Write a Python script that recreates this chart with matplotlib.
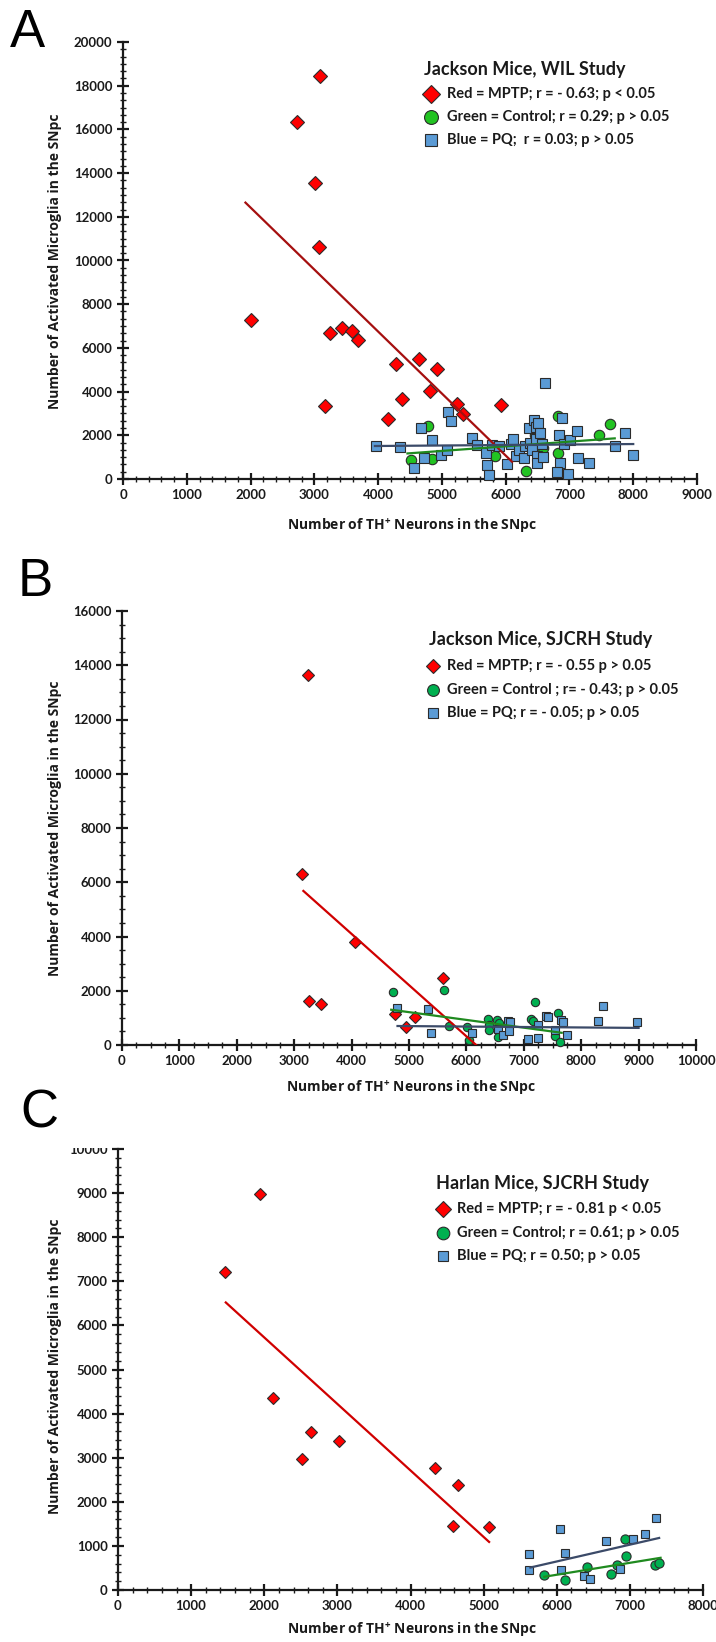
import numpy as np
import matplotlib
matplotlib.use('Agg')
from matplotlib import pyplot as plt
from matplotlib.patches import Rectangle
from matplotlib.ticker import MultipleLocator, AutoMinorLocator, FuncFormatter

plt.rcParams['mathtext.fontset'] = 'custom'
plt.rcParams['mathtext.rm'] = 'Open Sans:bold'
plt.rcParams['mathtext.bf'] = 'Open Sans:bold'

W, H = 716, 1642

# ---------------- data ----------------
# Panel A: Jackson Mice, WIL Study
a_red_x = [3090, 2730, 3010, 3070, 2010, 3250, 3440, 3590, 3690, 3160, 4280, 4640, 4920,
           4820, 4380, 4150, 5230, 5330, 5930]
a_red_y = [18450, 16340, 13540, 10600, 7270, 6700, 6920, 6780, 6360, 3340, 5260, 5470, 5020,
           4040, 3640, 2730, 3430, 2970, 3380]
a_green_x = [4510, 4780, 4850, 5840, 6320, 6460, 6580, 6820, 6820, 7470, 7640]
a_green_y = [870, 2420, 900, 1050, 370, 2030, 1400, 2900, 1190, 2030, 2540]
a_blue_x = [3960, 4350, 4570, 4670, 4720, 4840, 4990, 5080, 5090, 5140, 5475, 5555, 5685,
            5700, 5737, 5789, 5890, 6026, 6090, 6116, 6160, 6210, 6285, 6305, 6360, 6380,
            6420, 6450, 6474, 6500, 6474, 6490, 6490, 6540, 6570, 6580, 6612, 6835, 6845,
            6805, 6885, 6910, 6975, 7016, 7121, 7140, 7300, 7711, 7865, 8000]
a_blue_y = [1520, 1460, 490, 2317, 970, 1784, 1098, 1326, 3079, 2668, 1890, 1540, 1210,
            620, 190, 1555, 1500, 700, 1601, 1830, 1052, 1326, 960, 1530, 2330, 1631,
            1326, 2680, 2393, 2546, 1814, 1070, 730, 2100, 1601, 985, 4375, 2012, 747,
            305, 2810, 1615, 220, 1765, 2195, 976, 747, 1509, 2100, 1098]
a_red_fit = ([1920, 6100], [12650, 790])
a_green_fit = ([4460, 7710], [1170, 1860])
a_blue_fit = ([3950, 8000], [1510, 1600])

# Panel B: Jackson Mice, SJCRH Study
b_red_x = [3240, 3140, 4060, 5600, 3260, 3470, 4760, 5100, 4940]
b_red_y = [13640, 6290, 3790, 2460, 1620, 1500, 1130, 1040, 670]
b_green_x = [4720, 5610, 7200, 5700, 6010, 6040, 6370, 6395, 6395, 6540, 6570, 6555, 7130,
             7160, 7600, 7540, 7630]
b_green_y = [1940, 2020, 1600, 690, 650, 200, 950, 730, 540, 920, 800, 300, 950,
             875, 1190, 350, 120]
b_blue_x = [4790, 5330, 5380, 6100, 6555, 6635, 6720, 6740, 6763, 7080, 7250, 7240, 7380,
            7418, 7540, 7650, 7680, 7750, 8300, 8380, 8980]
b_blue_y = [1380, 1320, 450, 450, 600, 380, 900, 500, 830, 230, 270, 750, 1070,
            1030, 540, 920, 830, 380, 880, 1420, 860]
b_red_fit = ([3160, 6170], [5680, 0])
b_green_fit = ([4690, 7660], [1300, 450])
b_blue_fit = ([4800, 9000], [700, 630])

# Panel C: Harlan Mice, SJCRH Study
c_red_x = [1470, 1940, 2114, 2635, 2522, 3024, 4341, 4655, 4580, 5075]
c_red_y = [7220, 8980, 4355, 3575, 2981, 3380, 2767, 2386, 1458, 1439]
c_green_x = [5830, 6110, 6420, 6740, 6830, 6950, 6930, 7340, 7400]
c_green_y = [330, 225, 525, 370, 570, 765, 1150, 570, 610]
c_blue_x = [5620, 5620, 6050, 6110, 6060, 6370, 6450, 6670, 6870, 7040, 7200, 7360]
c_blue_y = [810, 460, 1380, 850, 445, 320, 240, 1110, 480, 1150, 1265, 1625]
c_red_fit = ([1474, 5075], [6520, 1090])
c_green_fit = ([5830, 7420], [300, 730])
c_blue_fit = ([5640, 7400], [510, 1180])

titles = ['Jackson Mice, WIL Study', 'Jackson Mice, SJCRH Study', 'Harlan Mice, SJCRH Study']
entries = [
    ['Red = MPTP; r = - 0.63; p < 0.05', 'Green = Control; r = 0.29; p > 0.05',
     'Blue = PQ;  r = 0.03; p > 0.05'],
    ['Red = MPTP; r = - 0.55 p > 0.05', 'Green = Control ; r= - 0.43; p > 0.05',
     'Blue = PQ; r = - 0.05; p > 0.05'],
    ['Red = MPTP; r = - 0.81 p < 0.05', 'Green = Control; r = 0.61; p > 0.05',
     'Blue = PQ; r = 0.50; p > 0.05'],
]

XLABEL = 'Number of TH$^{+}$ Neurons in the SNpc'
YLABEL = 'Number of Activated Microglia in the SNpc'

RED = '#FF0000'
BLUE = '#5B9BD5'
EDGE = '#2b2b2b'


def fx(x):
    return x / W


def fy(y):
    return 1 - y / H


fig = plt.figure(figsize=(W / 100, H / 100), dpi=100)

panels = [
    dict(letter='A', box=(123, 42, 697, 479), xlim=9000, ylim=20000, xmaj=1000, xmin=200,
         ymaj=2000, ymin_div=6, red=(a_red_x, a_red_y), green=(a_green_x, a_green_y),
         blue=(a_blue_x, a_blue_y), fits=(a_red_fit, a_green_fit, a_blue_fit),
         green_col='#22C322', red_line='#A50F0F', ms=(7.2, 7.5, 6.6),
         letter_pos=(10, 47), ylab=(55, 261), xlab=526,
         leg=dict(title=(424, 69), mx=431, tx=447, ys=(94, 117, 140))),
    dict(letter='B', box=(122, 611, 696, 1045), xlim=10000, ylim=16000, xmaj=1000, xmin=250,
         ymaj=2000, ymin_div=4, red=(b_red_x, b_red_y), green=(b_green_x, b_green_y),
         blue=(b_blue_x, b_blue_y), fits=(b_red_fit, b_green_fit, b_blue_fit),
         green_col='#00B050', red_line='#D00000', ms=(5.8, 6.0, 5.4),
         letter_pos=(18, 596), ylab=(55, 828), xlab=1088,
         leg=dict(title=(429, 639), mx=433, tx=447, ys=(666, 690, 713))),
    dict(letter='C', box=(118, 1149, 703, 1590), xlim=8000, ylim=10000, xmaj=1000, xmin=200,
         ymaj=1000, ymin_div=5, red=(c_red_x, c_red_y), green=(c_green_x, c_green_y),
         blue=(c_blue_x, c_blue_y), fits=(c_red_fit, c_green_fit, c_blue_fit),
         green_col='#00B050', red_line='#D00000', ms=(6.4, 6.6, 6.0),
         letter_pos=(20, 1128), ylab=(55, 1366), xlab=1630,
         leg=dict(title=(436, 1183), mx=443, tx=457, ys=(1209, 1233, 1256))),
]

fmt = FuncFormatter(lambda v, p: f'{int(round(v))}')

for i, p in enumerate(panels):
    x0, y0, x1, y1 = p['box']
    ax = fig.add_axes([fx(x0), fy(y1), (x1 - x0) / W, (y1 - y0) / H])
    ax.set_xlim(0, p['xlim'])
    ax.set_ylim(0, p['ylim'])
    for s in ('top', 'right'):
        ax.spines[s].set_visible(False)
    for s in ('left', 'bottom'):
        ax.spines[s].set_linewidth(1.6)
        ax.spines[s].set_color('#1a1a1a')
    ax.xaxis.set_major_locator(MultipleLocator(p['xmaj']))
    ax.xaxis.set_minor_locator(MultipleLocator(p['xmin']))
    ax.yaxis.set_major_locator(MultipleLocator(p['ymaj']))
    ax.yaxis.set_minor_locator(AutoMinorLocator(p['ymin_div']))
    ax.xaxis.set_major_formatter(fmt)
    ax.yaxis.set_major_formatter(fmt)
    ax.tick_params(which='major', direction='inout', length=9, width=1.6, color='#1a1a1a',
                   labelsize=9.5, pad=3)
    ax.tick_params(which='minor', direction='inout', length=4, width=1.0, color='#1a1a1a')
    for lab in ax.get_xticklabels() + ax.get_yticklabels():
        lab.set_fontfamily('Lato')
        lab.set_fontweight('bold')
        lab.set_color('#1a1a1a')

    ms_d, ms_o, ms_s = p['ms']
    ax.plot(*p['red'], 'D', ms=ms_d, mfc=RED, mec=EDGE, mew=0.8, ls='none',
            zorder=3, clip_on=False)
    ax.plot(*p['green'], 'o', ms=ms_o, mfc=p['green_col'], mec=EDGE, mew=0.8, ls='none',
            zorder=4, clip_on=False)
    ax.plot(*p['blue'], 's', ms=ms_s, mfc=BLUE, mec=EDGE, mew=0.8, ls='none',
            zorder=5, clip_on=False)
    rf, gf, bf = p['fits']
    ax.plot(*rf, color=p['red_line'], lw=1.6, zorder=6)
    ax.plot(*gf, color='#1F8A1F', lw=1.6, zorder=6)
    ax.plot(*bf, color='#3B4A68', lw=1.6, zorder=6)

    # panel letter
    lx, ly = p['letter_pos']
    fig.text(fx(lx), fy(ly), p['letter'], fontsize=38, family='Liberation Sans',
             ha='left', va='baseline')
    # axis labels
    fig.text(fx(p['ylab'][0]), fy(p['ylab'][1]), YLABEL, rotation=90, ha='center',
             va='center', fontsize=10, family='Open Sans', weight='bold', color='#1a1a1a')
    fig.text(fx((x0 + x1) / 2 + 2), fy(p['xlab']), XLABEL, ha='center', va='center',
             fontsize=10, family='Open Sans', weight='bold', color='#1a1a1a')

    # legend block
    lg = p['leg']
    fig.text(fx(lg['title'][0]), fy(lg['title'][1]), titles[i], ha='left', va='center',
             fontsize=13, family='Lato', weight='bold', color='#1a1a1a')
    styles = [('D', RED, ms_d + 1.5), ('o', p['green_col'], ms_o + 2.5), ('s', BLUE, ms_s + 1.5)]
    for (mk, col, ms), yy, txt in zip(styles, lg['ys'], entries[i]):
        ax.plot([fx(lg['mx'])], [fy(yy)], mk, ms=ms, mfc=col, mec=EDGE, mew=0.8,
                transform=fig.transFigure, clip_on=False, zorder=7)
        fig.text(fx(lg['tx']), fy(yy), txt, ha='left', va='center', fontsize=10.5,
                 family='Lato', weight='bold', color='#1a1a1a')

# the top of panel C's "10000" label is cut off in the original figure
fig.patches.append(Rectangle((fx(60), fy(1148)), fx(52), 12 / H, transform=fig.transFigure,
                             facecolor='white', edgecolor='none', zorder=10))

fig.savefig('out.png', dpi=100)
